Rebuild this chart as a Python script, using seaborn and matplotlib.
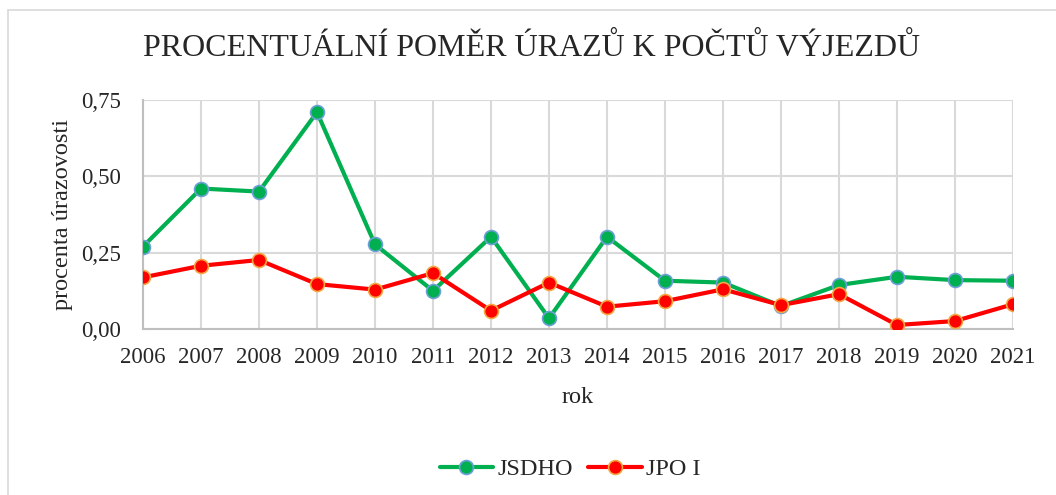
import seaborn as sns
import matplotlib.pyplot as plt
import pandas as pd
from matplotlib.lines import Line2D

years = list(range(2006, 2022))
jsdho = [0.27, 0.46, 0.45, 0.71, 0.277, 0.125, 0.302, 0.035,
         0.302, 0.158, 0.152, 0.075, 0.144, 0.171, 0.160, 0.158]
jpo_i = [0.169, 0.207, 0.226, 0.147, 0.129, 0.183, 0.060, 0.152,
         0.073, 0.091, 0.130, 0.078, 0.114, 0.013, 0.026, 0.081]
y_ticks = [0.0, 0.25, 0.5, 0.75]

df = pd.DataFrame({"rok": years, "JSDHO": jsdho, "JPO I": jpo_i})

sns.set_style("white")
plt.rcParams['font.family'] = ['Liberation Serif', 'DejaVu Serif']

fig = plt.figure(figsize=(10.56, 4.95), dpi=100)
ax = fig.add_axes([0.1354, 0.3354, 0.8239, 0.4626])

green, red = "#00b050", "#ff0000"
sns.lineplot(data=df, x="rok", y="JSDHO", ax=ax, color=green, lw=3,
             marker="o", markersize=10, markeredgecolor="#6f9fd8",
             markeredgewidth=1.2, label="JSDHO", zorder=3)
sns.lineplot(data=df, x="rok", y="JPO I", ax=ax, color=red, lw=3,
             marker="o", markersize=10, markeredgecolor="#f4a742",
             markeredgewidth=1.2, label="JPO I", zorder=4)

ax.set_xlim(2006, 2021)
ax.set_ylim(0, 0.75)
ax.set_xticks(years)
ax.set_xticklabels([str(y) for y in years])
ax.set_yticks(y_ticks)
ax.set_yticklabels([f"{v:.2f}".replace(".", ",") for v in y_ticks])
ax.tick_params(length=0, labelsize=16.5)
ax.tick_params(axis="y", pad=16)
ax.tick_params(axis="x", pad=13)
ax.grid(True, color="#d9d9d9", lw=1.5)
for s in ["top", "right"]:
    ax.spines[s].set_visible(False)
for s in ["left", "bottom"]:
    ax.spines[s].set_color("#bfbfbf")
    ax.spines[s].set_linewidth(1.5)

ax.set_xlabel("rok", fontsize=17.5, labelpad=14)
ax.set_ylabel("procenta úrazovosti", fontsize=17.5, labelpad=6)
ax.get_legend().remove()

fig.text(0.503, 0.903, "PROCENTUÁLNÍ POMĚR ÚRAZŮ K POČTŮ VÝJEZDŮ",
         ha="center", va="center", fontsize=23)

handles = [Line2D([], [], color=green, lw=3, marker="o", markersize=10,
                  markeredgecolor="#6f9fd8", markeredgewidth=1.2),
           Line2D([], [], color=red, lw=3, marker="o", markersize=10,
                  markeredgecolor="#f4a742", markeredgewidth=1.2)]
fig.legend(handles, ["JSDHO", "JPO I"], loc="center", bbox_to_anchor=(0.540, 0.052),
           ncol=2, frameon=False, fontsize=17.5, handlelength=2.2,
           handletextpad=0.2, columnspacing=0.6)

# chart frame
fig.add_artist(Line2D([8 / 1056, 1], [1 - 10 / 495] * 2, color="#d9d9d9", lw=1.2))
fig.add_artist(Line2D([8 / 1056] * 2, [0, 1 - 10 / 495], color="#d9d9d9", lw=1.2))

fig.savefig("out.png", dpi=100)
